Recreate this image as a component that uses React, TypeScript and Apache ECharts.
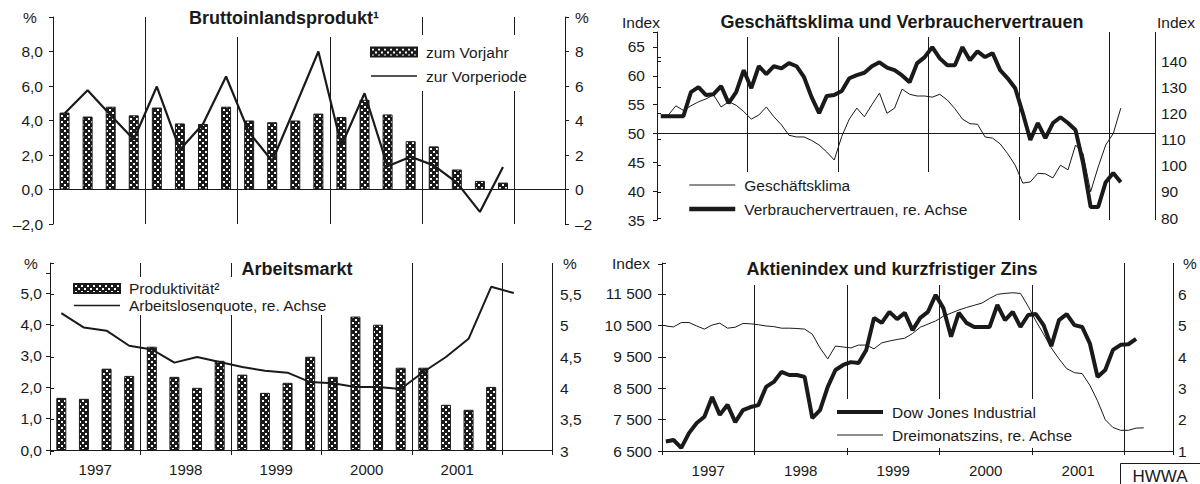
import { useEffect, useRef } from 'react';
import * as echarts from 'echarts';

const FONT = '"Liberation Sans", Arial, Helvetica, sans-serif';
const INK = '#1a1a1a';

const yearLabels = ['1997', '1998', '1999', '2000', '2001'];

// Bruttoinlandsprodukt, quarterly 1997Q1–2001Q4
const bipVorjahr = [4.46, 4.23, 4.8, 4.3, 4.75, 3.83, 3.8, 4.8, 4.0, 3.9, 4.0, 4.4, 4.2, 5.2, 4.35, 2.8, 2.5, 1.16, 0.5, 0.4];
const bipVorperiode = [4.4, 5.75, 4.3, 2.9, 5.97, 2.3, 3.8, 6.55, 3.3, 1.65, 4.8, 8.0, 2.55, 5.58, 1.35, 1.9, 1.4, 0.4, -1.3, 1.3];

// Geschäftsklima / Verbrauchervertrauen, monthly Jan 1997 – Feb 2002
const geschaeftsklima = [
  53.2, 53.2, 54.8, 54.0, 54.8, 55.5, 56.0, 56.7, 54.6, 55.5,
  54.9, 53.8, 52.5, 53.2, 54.6, 52.9, 51.5, 49.7, 49.4, 49.4,
  48.8, 48.0, 46.8, 45.4, 49.5, 52.5, 54.4, 52.9, 55.0, 57.0,
  53.5, 54.4, 57.7, 56.8, 56.5, 56.5, 56.3, 56.8, 55.8, 54.3,
  52.5, 51.7, 51.6, 49.4, 49.2, 48.2, 46.5, 44.5, 41.4, 41.6,
  43.1, 43.0, 42.3, 44.5, 43.7, 48.0, 46.5, 39.9, 44.2, 48.0,
  50.0, 54.4,
];
const verbrauchervertrauen = [
  118.9, 118.9, 118.9, 118.9, 128.1, 130, 127, 127.3, 130.4, 123.9,
  128.1, 136.5, 129.6, 138, 135, 138, 137.2, 139.2, 138, 133.8,
  126.2, 120.1, 126.6, 127, 128.5, 133.4, 134.6, 135.5, 138, 139.5,
  137.5, 136.5, 134.5, 131.9, 139.2, 141.5, 145.3, 141, 138.4, 138.4,
  145.3, 140.3, 143.7, 141.5, 143, 136.5, 133.4, 129.6, 120.1, 109.8,
  116.3, 110.5, 116.3, 118.5, 116.3, 113.6, 101, 84.2, 84.2, 93.7,
  97.2, 93.7,
];

// Arbeitsmarkt, quarterly
const produktivitaet = [1.66, 1.63, 2.59, 2.36, 3.29, 2.33, 1.98, 2.84, 2.4, 1.82, 2.14, 2.97, 2.33, 4.25, 3.99, 2.62, 2.62, 1.44, 1.28, 2.01];
const arbeitslosenquote = [5.2, 4.97, 4.92, 4.68, 4.62, 4.41, 4.5, 4.42, 4.34, 4.28, 4.25, 4.1, 4.08, 4.02, 4.02, 3.99, 4.26, 4.5, 4.79, 5.62, 5.52];

// Aktienindex und Zins, monthly
const dowJones = [
  6800, 6850, 6600, 7070, 7390, 7590, 8220, 7650, 7970, 7420,
  7800, 7900, 7960, 8540, 8700, 9020, 8920, 8920, 8860, 7550,
  7800, 8540, 9080, 9240, 9330, 9300, 9720, 10740, 10580, 10930,
  10700, 10900, 10350, 10740, 10930, 11470, 11050, 10140, 10900, 10580,
  10450, 10450, 10450, 11150, 10670, 10930, 10450, 10830, 10860, 10510,
  9840, 10670, 10860, 10510, 10450, 9930, 8860, 9080, 9720, 9880,
  9900, 10070,
];
const dreimonatszins = [
  4.99, 4.96, 5.1, 5.1, 4.99, 4.89, 5.02, 5.08, 4.92, 4.95,
  5.07, 5.06, 5.03, 4.99, 4.97, 4.92, 4.92, 4.91, 4.89, 4.73,
  4.29, 3.94, 4.35, 4.32, 4.29, 4.38, 4.38, 4.26, 4.45, 4.51,
  4.56, 4.6, 4.75, 4.95, 5.05, 5.15, 5.3, 5.4, 5.5, 5.58,
  5.65, 5.72, 5.87, 6.0, 6.03, 6.05, 6.03, 5.62, 5.15, 4.73,
  4.29, 3.94, 3.63, 3.5, 3.47, 3.1, 2.6, 2.0, 1.75, 1.66,
  1.66, 1.73, 1.74,
];

const quarterX = (i: number) => (i + 0.5) / 4;
const monthX = (i: number) => (i + 0.5) / 12;

function makePattern() {
  const c = document.createElement('canvas');
  c.width = 6;
  c.height = 6;
  const ctx = c.getContext('2d')!;
  ctx.fillStyle = '#1a1a1a';
  ctx.fillRect(0, 0, 6, 6);
  ctx.fillStyle = '#ffffff';
  ctx.fillRect(1, 1, 2, 2);
  ctx.fillRect(4, 4, 2, 2);
  return { image: c, repeat: 'repeat', imageWidth: 6, imageHeight: 6 } as any;
}

const labelStyle = { color: INK, fontSize: 15.5, fontFamily: FONT };
const lineSt = { lineStyle: { color: INK, width: 1 } };

const dec1 = (v: number) => v.toFixed(1).replace('.', ',').replace('-', '–');
const plain = (v: number) => String(v).replace('.', ',').replace('-', '–');
const thousands = (v: number) => {
  const t = Math.floor(v / 1000);
  const r = String(v % 1000).padStart(3, '0');
  return t > 0 ? `${t} ${r}` : r;
};
const yearFmt = (v: number) => {
  const k = Math.round(v * 2);
  if (Math.abs(v * 2 - k) > 1e-6 || k % 2 !== 1) return '';
  return yearLabels[(k - 1) / 2] ?? '';
};

function yAx(gridIndex: number, position: string, min: number, max: number, interval: number, formatter: (v: number) => string, margin: number) {
  return {
    type: 'value', gridIndex, position, min, max, interval,
    axisLine: { show: true, ...lineSt },
    axisTick: { show: true, length: 4, ...lineSt },
    axisLabel: { ...labelStyle, margin, formatter },
    splitLine: { show: false },
  };
}

function splitX(gridIndex: number, max: number, showTick: boolean, axisLineShow = false, onZero = false) {
  return {
    type: 'value', gridIndex, min: 0, max, interval: 1,
    axisLine: { show: axisLineShow, onZero, ...lineSt },
    axisTick: { show: showTick, length: 4, ...lineSt },
    axisLabel: { show: false },
    splitLine: { show: true, lineStyle: { color: INK, width: 1 } },
  };
}

function labelX(gridIndex: number, max: number) {
  return {
    type: 'value', gridIndex, min: 0, max, interval: 0.5,
    axisLine: { show: true, onZero: false, ...lineSt },
    axisTick: { show: false },
    axisLabel: { ...labelStyle, fontSize: 15, margin: 12, formatter: yearFmt },
    splitLine: { show: false },
  };
}

const lineItem = (name: string, width: number) => ({
  name,
  itemStyle: { opacity: 0 },
  lineStyle: { width, color: INK },
});
const barItem = (name: string) => ({ name, icon: 'rect' });

function legend(names: any[], left: number, top: number, itemGap: number, lineHeight: number, padding: number[]) {
  return {
    data: names, orient: 'vertical', left, top, itemGap,
    itemWidth: 46, itemHeight: 9,
    backgroundColor: '#ffffff', padding, selectedMode: false,
    textStyle: { color: INK, fontSize: 15.5, fontFamily: FONT, lineHeight, padding: [0, 0, 0, 4] },
  };
}

function txt(text: string, x: number, y: number, extra: any = {}) {
  return {
    type: 'text', x, y, z: 100,
    style: {
      text, fill: INK, fontSize: 15.5, fontFamily: FONT,
      align: 'center', verticalAlign: 'middle', textAlign: 'center', textVerticalAlign: 'middle',
      ...extra,
    },
  };
}

function buildOption() {
  const pattern = makePattern();
  const grid = (left: number, top: number, width: number, height: number) => ({ left, top, width, height, containLabel: false, outerBoundsMode: 'none' });
  return {
    animation: false,
    backgroundColor: '#ffffff',
    grid: [
      grid(53, 17, 512, 207),
      grid(657, 32, 498, 188),
      grid(657, 57, 498, 161),
      grid(50, 273, 502, 177),
      grid(50, 263, 502, 188),
      grid(662, 264, 511, 187),
      grid(662, 263, 511, 188),
    ],
    xAxis: [
      splitX(0, 5.547, false, true, true),
      splitX(1, 5.503, false),
      { type: 'value', gridIndex: 2, min: 0, max: 5.503, show: false },
      labelX(3, 5.547),
      splitX(4, 5.547, true),
      labelX(5, 5.524),
      splitX(6, 5.524, true),
    ],
    yAxis: [
      yAx(0, 'left', -2, 10, 2, (v) => (v > 8 ? '' : dec1(v)), 10),
      yAx(0, 'right', -2, 10, 2, (v) => (v > 8 ? '' : plain(v)), 10),
      yAx(1, 'left', 35, 67.6, 5, (v) => (v % 5 !== 0 ? '' : String(v)), 12),
      yAx(2, 'right', 80, 141.53, 10, (v) => (v > 140 ? '' : String(v)), 6),
      yAx(3, 'left', 0, 5.637, 1, (v) => (v > 5 ? '' : dec1(v)), 8),
      yAx(4, 'right', 3, 6, 0.5, (v) => (v >= 6 ? '' : plain(v)), 8),
      yAx(5, 'left', 6500, 12455, 1000, (v) => (v > 11500 ? '' : thousands(v)), 10),
      yAx(6, 'right', 1, 7, 1, (v) => (v >= 7 ? '' : String(v)), 5),
    ],
    legend: [
      legend([barItem('zum Vorjahr'), lineItem('zur Vorperiode', 1.6)], 370, 35, 6, 18, [8, 12, 6, 0]),
      legend([lineItem('Geschäftsklima', 1), lineItem('Verbrauchervertrauen, re. Achse', 4.5)], 687, 172, 6, 18, [4, 12, 3, 0]),
      legend([barItem('Produktivität²'), lineItem('Arbeitslosenquote, re. Achse', 1.6)], 73, 277, 0, 17, [3, 8, 1, 0]),
      legend([lineItem('Dow Jones Industrial', 4), lineItem('Dreimonatszins, re. Achse', 1)], 835, 399, 5, 18, [4, 10, 4, 0]),
    ],
    series: [
      {
        name: 'zum Vorjahr', type: 'bar', xAxisIndex: 0, yAxisIndex: 0, barWidth: 10,
        itemStyle: { color: pattern, borderColor: INK, borderWidth: 1 },
        data: bipVorjahr.map((v, i) => [quarterX(i), v]),
      },
      {
        name: 'zur Vorperiode', type: 'line', xAxisIndex: 0, yAxisIndex: 1, symbol: 'none',
        lineStyle: { color: INK, width: 2.2 }, itemStyle: { color: INK },
        data: bipVorperiode.map((v, i) => [quarterX(i), v]),
      },
      {
        name: 'Geschäftsklima', type: 'line', xAxisIndex: 1, yAxisIndex: 2, symbol: 'none',
        lineStyle: { color: INK, width: 1 }, itemStyle: { color: INK },
        data: geschaeftsklima.map((v, i) => [monthX(i), v]),
        markLine: {
          silent: true, symbol: ['none', 'none'], label: { show: false },
          lineStyle: { color: INK, width: 1, type: 'solid' },
          data: [{ yAxis: 50 }],
        },
      },
      {
        name: 'Verbrauchervertrauen, re. Achse', type: 'line', xAxisIndex: 2, yAxisIndex: 3, symbol: 'none', clip: false,
        lineStyle: { color: INK, width: 4 }, itemStyle: { color: INK },
        data: verbrauchervertrauen.map((v, i) => [monthX(i), v]),
      },
      {
        name: 'Produktivität²', type: 'bar', xAxisIndex: 3, yAxisIndex: 4, barWidth: 10,
        itemStyle: { color: pattern, borderColor: INK, borderWidth: 1 },
        data: produktivitaet.map((v, i) => [quarterX(i), v]),
      },
      {
        name: 'Arbeitslosenquote, re. Achse', type: 'line', xAxisIndex: 4, yAxisIndex: 5, symbol: 'none',
        lineStyle: { color: INK, width: 2 }, itemStyle: { color: INK },
        data: arbeitslosenquote.map((v, i) => [quarterX(i), v]),
      },
      {
        name: 'Dow Jones Industrial', type: 'line', xAxisIndex: 5, yAxisIndex: 6, symbol: 'none',
        lineStyle: { color: INK, width: 4 }, itemStyle: { color: INK },
        data: dowJones.map((v, i) => [monthX(i), v]),
      },
      {
        name: 'Dreimonatszins, re. Achse', type: 'line', xAxisIndex: 6, yAxisIndex: 7, symbol: 'none',
        lineStyle: { color: INK, width: 1 }, itemStyle: { color: INK },
        data: dreimonatszins.map((v, i) => [monthX(i), v]),
      },
    ],
    graphic: [
      txt('Bruttoinlandsprodukt¹', 284, 18, { fontSize: 18, fontWeight: 'bold', backgroundColor: '#ffffff', padding: [4, 6, 16, 6] }),
      txt('Geschäftsklima und Verbrauchervertrauen', 902, 22, { fontSize: 18, fontWeight: 'bold', backgroundColor: '#ffffff', padding: [3, 6, 9, 6] }),
      txt('Arbeitsmarkt', 297, 269, { fontSize: 18, fontWeight: 'bold', backgroundColor: '#ffffff', padding: [3, 4, 4, 4] }),
      txt('Aktienindex und kurzfristiger Zins', 892, 269, { fontSize: 18, fontWeight: 'bold', backgroundColor: '#ffffff', padding: [3, 6, 11, 6] }),
      txt('%', 30, 17),
      txt('%', 582, 17),
      txt('Index', 641, 22),
      txt('Index', 1176, 22),
      txt('%', 31, 263),
      txt('%', 570, 263),
      txt('Index', 631, 263),
      txt('%', 1190, 263),
      { type: 'rect', z: 100, shape: { x: 1120.5, y: 463.5, width: 80, height: 25 }, style: { fill: '#ffffff', stroke: INK, lineWidth: 1 } },
      txt('HWWA', 1160, 476, { fontSize: 17 }),
    ],
  };
}

export default function App() {
  const ref = useRef<HTMLDivElement>(null);
  useEffect(() => {
    const chart = echarts.init(ref.current!, null, { renderer: 'svg' });
    chart.setOption(buildOption() as any);
    return () => chart.dispose();
  }, []);
  return (
    <div
      ref={ref}
      style={{ position: 'absolute', left: 0, top: 0, width: 1200, height: 484, background: '#ffffff' }}
    />
  );
}
